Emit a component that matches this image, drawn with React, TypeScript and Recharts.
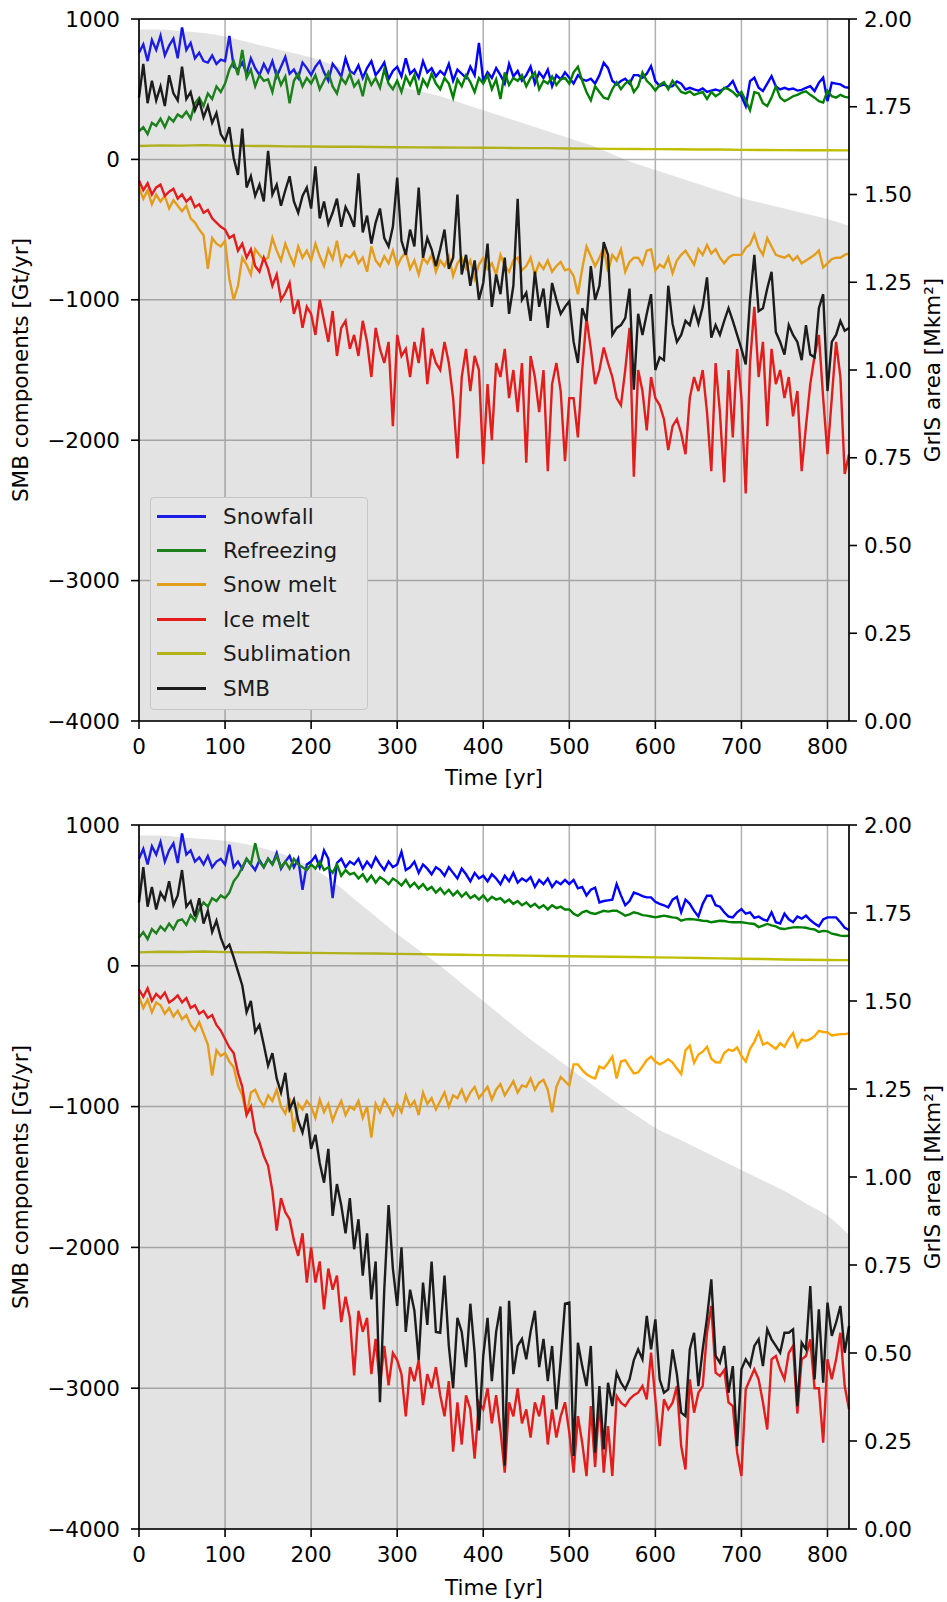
import React from 'react'
import {
  Area,
  CartesianGrid,
  ComposedChart,
  Line,
  ReferenceLine,
  XAxis,
  YAxis,
} from 'recharts'

const FONT = '"DejaVu Sans", sans-serif'

// model years, one sample every 5 yr (0..825)
const TIME = Array.from({ length: 166 }, (_, i) => i * 5)
// sublimation and ice-sheet area are read every 25 yr
const COARSE_STEP = 25

const X_TICKS = [0, 100, 200, 300, 400, 500, 600, 700, 800]
const SMB_TICKS = [-4000, -3000, -2000, -1000, 0, 1000]
const AREA_TICKS = [0, 0.25, 0.5, 0.75, 1, 1.25, 1.5, 1.75, 2]

// ---- upper panel ----
const TOP_SNOWFALL = [
  760, 820, 700, 850, 780, 880, 740, 810, 860, 720,
  940, 780, 830, 720, 760, 700, 690, 740, 680, 710,
  700, 880, 660, 640, 690, 610, 720, 650, 600, 680,
  620, 700, 590, 660, 730, 610, 640, 580, 690, 650,
  600, 660, 700, 620, 560, 680, 640, 590, 720, 630,
  610, 670, 580, 650, 700, 600, 640, 690, 570, 630,
  660, 590, 720, 610, 640, 580, 700, 620, 650, 590,
  630, 600, 680, 560, 640, 610, 580, 660, 600, 830,
  560, 620, 580, 650, 600, 540, 680, 590, 630, 560,
  600, 660, 540, 620, 580, 640, 520, 600, 570, 620,
  582, 540, 600, 570, 560, 575, 540, 600, 688, 650,
  560, 534, 558, 575, 540, 600, 600, 582, 610, 665,
  558, 522, 534, 515, 522, 555, 540, 498, 510, 498,
  490, 505, 480, 490, 498, 487, 505, 522, 558, 487,
  450, 380, 558, 582, 510, 487, 540, 593, 520, 498,
  510, 498, 505, 490, 495, 510, 522, 487, 546, 582,
  415, 546, 540, 534, 515, 510,
]

const TOP_REFREEZING = [
  200, 230, 180, 260, 240, 290, 230, 300, 270, 320,
  300, 340, 290, 400, 440, 380, 470, 430, 520, 480,
  540, 640, 700, 600, 780, 580, 640, 520, 600, 560,
  570, 480, 620, 530, 590, 400, 560, 610, 520, 580,
  540, 600, 500, 560, 620, 520, 470, 580, 540, 610,
  520, 560, 450, 600, 530, 580, 510, 640, 540, 500,
  560, 480, 590, 530, 600, 460, 570, 520, 610, 540,
  500, 580, 540, 440, 570, 520, 600, 550, 480, 580,
  540, 600, 500, 570, 430, 620, 530, 580, 560, 600,
  520, 580, 620, 500, 560, 540, 590, 530, 570, 580,
  540, 620, 660, 560, 480, 420, 520, 480, 440, 430,
  500, 550, 500, 540, 560, 480, 520, 620, 560, 530,
  490, 530, 550, 500, 560, 520, 480, 470, 485, 460,
  470, 480, 430, 480, 450, 470, 510, 500, 480, 450,
  480, 420, 350, 480, 470, 400, 380, 440, 520, 440,
  415, 430, 450, 460, 475, 485, 460, 440, 415, 405,
  490, 450, 440, 460, 445, 440,
]

const TOP_SNOW_MELT = [
  -200, -280, -220, -320, -250, -300, -260, -350, -290, -330,
  -370, -330, -420, -450, -500, -540, -780, -560, -600, -620,
  -580, -850, -1000, -900, -700, -750, -820, -640, -680, -720,
  -700, -560, -650, -720, -600, -680, -750, -620, -700, -650,
  -720, -600, -690, -760, -640, -710, -580, -750, -680, -700,
  -660, -740, -700, -800, -620, -720, -760, -690, -740, -650,
  -760, -700, -660, -780, -720, -820, -700, -740, -680, -800,
  -720, -760, -690, -830, -740, -700, -780, -720, -850, -750,
  -700, -780, -740, -820, -680, -760, -800, -720, -700, -790,
  -760, -700, -820, -740, -780, -720, -800, -760, -730, -790,
  -780, -830, -960, -780, -620, -690, -760, -700, -630, -800,
  -680, -720, -640, -800, -730, -700, -700, -750, -650, -640,
  -790, -750, -770, -700, -810, -720, -680, -650, -700, -750,
  -640, -680, -610, -670, -640, -700, -740, -700, -680, -680,
  -680, -630, -606, -535, -630, -680, -560, -620, -680, -690,
  -700, -680, -720, -690, -740, -720, -700, -680, -650, -770,
  -740, -710, -700, -700, -680, -670,
]

const TOP_ICE_MELT = [
  -150, -220, -170, -250, -200, -180, -260, -230, -210, -280,
  -250, -300, -270, -340, -320, -380, -360, -420, -450, -480,
  -500, -560, -540, -650, -600, -700, -640, -760, -800, -700,
  -780, -900, -820, -1000, -950, -880, -1100, -1000, -1200, -1050,
  -1100, -1250, -1000, -1150, -1300, -1080, -1400, -1200, -1150, -1350,
  -1250, -1400, -1150, -1300, -1550, -1200, -1350, -1450, -1300, -1900,
  -1250, -1400, -1350, -1550, -1300, -1450, -1200, -1600, -1350, -1450,
  -1500, -1300, -1450, -1700, -2130, -1550, -1350, -1650, -1400, -1500,
  -2170, -1600, -2000, -1450, -1550, -1350, -1700, -1500, -1800, -1450,
  -2160, -1400, -1550, -1800, -1500, -2220, -1600, -1450, -1650, -2150,
  -1700, -1700, -1980, -1500, -1130, -1350, -1600, -1500, -1340, -1450,
  -1550, -1700, -1750, -1500, -1200, -2260, -1500, -1650, -1930, -1550,
  -1700, -1750, -1850, -2070, -1900, -1850, -1950, -2100, -1700, -1550,
  -1650, -1500, -1800, -2220, -1450, -1800, -2300, -1500, -1980, -1350,
  -1700, -2380, -1450, -1050, -1550, -1300, -1900, -1350, -1600, -1500,
  -1700, -1550, -1830, -1650, -2220, -1900, -1600, -1400, -1250, -1700,
  -2100, -1700, -1300, -1550, -2240, -2100,
]

const TOP_SMB = [
  440, 680, 400, 560, 420, 520, 380, 600, 470, 420,
  660, 430, 480, 350, 420, 300, 380, 260, 330, 180,
  130, 230, 10, -110, 220, -200, -120, -260, -180, -300,
  60, -250, -180, -330, -220, -120, -300, -380, -260, -200,
  -350, -50, -420, -300, -460, -380, -280, -480, -340, -400,
  -480, -100, -520, -400, -600, -450, -350, -560, -620, -480,
  -130, -580, -680, -500, -620, -200, -700, -560, -640, -760,
  -640, -500, -780, -700, -250, -820, -680, -900, -720, -1000,
  -880, -600, -1050, -820, -960, -700, -1100, -900, -280, -1000,
  -950, -1150, -800, -1050, -920, -1200, -880, -1000, -1100, -1050,
  -1010, -1300, -1450, -1060, -1150, -760, -1000, -900, -590, -680,
  -1250, -1200, -1180, -1130, -920, -1640, -1100, -1250, -1100, -960,
  -1500, -1410, -1430, -900, -1170, -1300, -1250, -1150, -1180, -1060,
  -1170, -1050, -840, -1270, -1180, -1250, -1150, -1060, -1150, -1250,
  -1350, -1460, -1000, -680, -1080, -1060, -920, -800, -1230, -1300,
  -1390, -1180, -1250, -1300, -1430, -1180, -1390, -1410, -1060, -960,
  -1650, -1300, -1250, -1150, -1220, -1200,
]

const TOP_SUBLIMATION = [
  95, 100, 98, 102, 97, 96, 95, 93, 92, 90, 90, 88, 87, 86, 85, 84, 83,
  82, 80, 80, 78, 77, 75, 74, 73, 72, 70, 70, 68, 67, 66, 65, 65, 64,
]

const TOP_AREA = [
  1.97, 1.97, 1.965, 1.96, 1.95, 1.935, 1.92, 1.905, 1.89, 1.87, 1.85, 1.83,
  1.81, 1.795, 1.78, 1.76, 1.74, 1.72, 1.7, 1.68, 1.66, 1.64, 1.615, 1.59,
  1.57, 1.55, 1.53, 1.51, 1.49, 1.475, 1.46, 1.445, 1.43, 1.41,
]

// ---- lower panel ----
const BOT_SNOWFALL = [
  760, 830, 720, 850, 790, 880, 740, 820, 870, 730,
  940, 790, 820, 740, 770, 720, 780, 700, 740, 760,
  720, 860, 700, 740, 690, 760, 720, 680, 750, 700,
  760, 720, 800, 690, 740, 780, 700, 760, 540, 720,
  740, 780, 700, 820, 760, 480, 730, 760, 700, 740,
  720, 760, 690, 740, 700, 770, 720, 680, 740, 700,
  720, 810, 680, 700, 740, 660, 720, 690, 650, 700,
  680, 640, 700, 660, 620, 690, 650, 600, 660, 620,
  640, 600, 650, 620, 580, 640, 600, 660, 590, 620,
  600, 630, 560, 610, 580, 620, 560, 600, 580, 610,
  581, 610, 550, 560, 500, 540, 555, 450, 460, 465,
  470, 580, 500, 430, 460, 520, 510, 495, 486, 486,
  455, 440, 430, 415, 470, 490, 380, 470, 440, 390,
  350, 440, 498, 498, 430, 420, 380, 350, 344, 380,
  403, 370, 380, 340, 350, 330, 320, 380, 310, 300,
  370, 330, 310, 350, 335, 356, 325, 300, 280, 330,
  344, 344, 344, 310, 270, 255,
]

const BOT_REFREEZING = [
  200, 240, 190, 260, 230, 280, 250, 300, 260, 320,
  330, 290, 360, 320, 400, 450, 420, 480, 460, 500,
  480, 520, 600, 640, 700, 760, 720, 870, 740, 700,
  760, 720, 780, 700, 740, 690, 760, 720, 700, 680,
  720, 690, 740, 680, 700, 660, 720, 640, 680, 650,
  660, 620, 650, 600, 640, 590, 630, 610, 580, 620,
  600, 570, 610, 560, 590, 550, 580, 540, 560, 520,
  550, 510, 540, 500, 530, 490, 520, 480, 500, 470,
  500, 460, 490, 470, 480, 450, 470, 440, 460, 430,
  450, 420, 440, 410, 430, 400, 430, 410, 420, 400,
  400, 370, 355, 380, 390, 375, 368, 380, 391, 385,
  391, 391, 375, 356, 365, 380, 372, 360, 356, 350,
  344, 350, 356, 350, 344, 340, 320, 330, 332, 330,
  325, 320, 318, 309, 315, 320, 318, 312, 309, 310,
  309, 305, 300, 297, 275, 285, 297, 287, 280, 265,
  261, 268, 273, 275, 273, 270, 262, 258, 240, 248,
  245, 228, 222, 214, 212, 214,
]

const BOT_SNOW_MELT = [
  -220, -300, -240, -330, -260, -280, -340, -300, -360, -320,
  -380, -350, -420, -460, -400, -480, -560, -780, -600, -640,
  -620, -680, -720, -850, -920, -1060, -900, -880, -950, -1000,
  -920, -960, -880, -1000, -1050, -940, -1180, -980, -1020, -960,
  -1000, -1080, -950, -1040, -980, -1100, -1020, -960, -1060, -1000,
  -1020, -960, -1080, -1000, -1220, -980, -1040, -950, -1000, -1060,
  -980, -1040, -920, -1000, -960, -1060, -900, -980, -940, -1020,
  -960, -900, -1000, -920, -940, -880, -960, -900, -860, -940,
  -900, -860, -950, -880, -840, -920, -870, -820, -900, -850,
  -860, -800, -880, -830, -810, -880, -1040, -860, -790, -820,
  -850, -700, -700, -740, -770, -790, -800, -715, -730, -690,
  -645, -800, -680, -670, -720, -765, -758, -715, -670, -645,
  -680, -700, -685, -663, -687, -730, -770, -600, -568, -690,
  -630, -610, -575, -660, -685, -687, -620, -595, -605, -580,
  -640, -680, -590, -540, -470, -560, -545, -568, -590, -550,
  -575, -520, -478, -575, -525, -533, -521, -500, -462, -470,
  -473, -495, -490, -485, -485, -480,
]

const BOT_ICE_MELT = [
  -170, -220, -160, -250, -200, -230, -190, -260, -240, -210,
  -260, -230, -300, -280, -340, -320, -370, -350, -420, -460,
  -520, -580, -620, -760, -860, -1060, -1000, -1180, -1250, -1350,
  -1420, -1600, -1880, -1650, -1750, -1800, -1950, -2060, -1900, -2250,
  -2000, -2250, -2100, -2440, -2150, -2300, -2200, -2530, -2350, -2500,
  -2910, -2450, -2600, -2500, -2900, -2650, -2980, -2700, -2980, -2750,
  -2800, -2900, -3200, -2850, -2950, -2800, -3120, -2900, -3000, -2850,
  -3050, -3200, -2950, -3450, -3100, -3400, -3050, -3150, -3500, -3100,
  -3150, -3000, -3250, -3050, -3300, -3600, -3100, -3200, -3000, -3250,
  -3150, -3350, -3100, -3200, -3050, -3400, -3150, -3350, -3200, -3100,
  -3316, -3600, -3198, -3387, -3624, -3127, -3560, -3079, -3600, -3269,
  -3624, -3056, -3103, -3127, -3079, -3050, -3032, -2985, -3079, -2748,
  -3079, -3411, -3079, -3150, -3103, -2985, -3411, -3577, -2937, -3174,
  -3032, -2985, -2606, -2416, -2890, -2914, -2870, -3100, -3127, -3458,
  -3624, -3008, -2937, -2866, -2937, -3100, -3293, -2795, -2771, -2866,
  -2937, -2750, -2700, -3180, -2795, -2771, -2653, -3000, -3000, -3387,
  -2795, -2937, -2795, -2606, -2985, -3150,
]

const BOT_SMB = [
  450, 700, 420, 560, 400, 520, 470, 600, 430, 500,
  680, 420, 460, 350, 480, 300, 390, 240, 320, 200,
  120, 150, 60, -40, -140, -330, -250, -470, -420, -560,
  -710, -620, -800, -900, -760, -1018, -950, -1100, -1184, -1050,
  -1300, -1200, -1400, -1540, -1300, -1776, -1550, -1700, -1900, -1650,
  -2013, -1800, -2200, -1900, -2369, -2100, -3100, -2300, -1700, -2150,
  -2416, -2000, -2600, -2300, -2450, -2800, -2250, -2550, -2100, -2600,
  -2606, -2200, -2700, -3000, -2500, -2600, -2850, -2400, -2750, -3300,
  -2771, -2500, -2950, -2600, -2420, -3550, -2380, -2900, -2700, -2650,
  -2795, -2600, -2450, -2850, -2650, -2950, -2700, -3150, -2800, -2400,
  -2392, -3482, -2677, -2843, -2985, -2700, -3458, -2985, -3435, -2961,
  -3127, -2890, -2961, -3008, -2937, -2800, -2724, -2795, -2487, -2724,
  -2511, -2937, -3032, -3008, -2724, -2900, -3174, -3198, -2724, -2606,
  -2985, -2724, -2500, -2227, -2771, -2819, -2700, -3032, -2843, -3411,
  -2866, -2795, -2843, -2700, -2653, -2843, -2582, -2653, -2700, -2748,
  -2606, -2606, -2582, -3127, -2677, -2724, -2274, -2937, -2440, -2961,
  -2392, -2629, -2535, -2416, -2748, -2558,
]

const BOT_SUBLIMATION = [
  95, 100, 98, 102, 97, 95, 96, 93, 92, 90, 88, 87, 85, 83, 80, 78, 76,
  74, 72, 70, 68, 66, 64, 62, 60, 58, 55, 53, 50, 48, 45, 43, 41, 40,
]

const BOT_AREA = [
  1.97, 1.97, 1.965, 1.96, 1.955, 1.945, 1.93, 1.91, 1.88, 1.84, 1.79, 1.74,
  1.69, 1.645, 1.6, 1.55, 1.5, 1.45, 1.4, 1.355, 1.31, 1.265, 1.22, 1.18,
  1.14, 1.11, 1.08, 1.05, 1.02, 0.99, 0.96, 0.925, 0.89, 0.835,
]

// legend colours are pre-mixed with the translucent grey area lying on top
const SERIES = [
  { key: 'snow', name: 'Snowfall', color: '#0000ff', shaded: '#1c1ce3' },
  { key: 'refreeze', name: 'Refreezing', color: '#008000', shaded: '#1c801c' },
  { key: 'snowMelt', name: 'Snow melt', color: '#ffa500', shaded: '#e39d1c' },
  { key: 'iceMelt', name: 'Ice melt', color: '#ff0000', shaded: '#e31c1c' },
  { key: 'sub', name: 'Sublimation', color: '#bfbf00', shaded: '#b1b11c' },
  { key: 'smb', name: 'SMB', color: '#000000', shaded: '#1c1c1c' },
]

type PanelData = {
  snow: number[]
  refreeze: number[]
  snowMelt: number[]
  iceMelt: number[]
  smb: number[]
  sub: number[]
  area: number[]
}

function buildRows(p: PanelData) {
  return TIME.map((t, i) => {
    const j = t % COARSE_STEP === 0 ? t / COARSE_STEP : -1
    return {
      t,
      snow: p.snow[i],
      refreeze: p.refreeze[i],
      snowMelt: p.snowMelt[i],
      iceMelt: p.iceMelt[i],
      smb: p.smb[i],
      sub: j >= 0 ? p.sub[j] : null,
      area: j >= 0 ? p.area[j] : null,
    }
  })
}

const TOP_ROWS = buildRows({
  snow: TOP_SNOWFALL,
  refreeze: TOP_REFREEZING,
  snowMelt: TOP_SNOW_MELT,
  iceMelt: TOP_ICE_MELT,
  smb: TOP_SMB,
  sub: TOP_SUBLIMATION,
  area: TOP_AREA,
})

const BOT_ROWS = buildRows({
  snow: BOT_SNOWFALL,
  refreeze: BOT_REFREEZING,
  snowMelt: BOT_SNOW_MELT,
  iceMelt: BOT_ICE_MELT,
  smb: BOT_SMB,
  sub: BOT_SUBLIMATION,
  area: BOT_AREA,
})

const TICK = { fontSize: 21.5, fill: '#000', fontFamily: FONT }
const SPINE = { stroke: '#000', strokeWidth: 1.6 }

const fmtSmb = (v: number) => (v < 0 ? '\u2212' + Math.abs(v) : String(v))

const axisTitle: React.CSSProperties = {
  position: 'absolute',
  fontFamily: FONT,
  fontSize: 21.5,
  color: '#000',
  whiteSpace: 'nowrap',
  lineHeight: 1,
}

function LegendBox() {
  return (
    <div
      style={{
        position: 'absolute',
        left: 150,
        top: 497,
        width: 216,
        height: 211,
        background: '#e4e4e4',
        border: '1px solid #c6c6c6',
        borderRadius: 4,
        fontFamily: FONT,
        fontSize: 21.5,
        color: '#1c1c1c',
      }}
    >
      {SERIES.map((s, i) => (
        <div
          key={s.key}
          style={{
            position: 'absolute',
            left: 0,
            top: 18 + i * 34.4 - 17,
            height: 34,
            display: 'flex',
            alignItems: 'center',
          }}
        >
          <span
            style={{
              display: 'inline-block',
              marginLeft: 6,
              width: 49,
              height: 3,
              background: s.shaded,
            }}
          />
          <span style={{ marginLeft: 17 }}>{s.name}</span>
        </div>
      ))}
    </div>
  )
}

type PanelProps = {
  rows: ReturnType<typeof buildRows>
  top: number
  height: number
  marginTop: number
  axisHeight: number
  labelOffset: number
  legend?: boolean
}

function SmbPanel({ rows, top, height, marginTop, axisHeight, labelOffset, legend }: PanelProps) {
  const mid = top + (marginTop + height - axisHeight) / 2
  return (
    <>
      <div style={{ position: 'absolute', left: 0, top, width: 947, height }}>
        <ComposedChart
          width={947}
          height={height}
          data={rows}
          margin={{ top: marginTop, right: 0, bottom: 0, left: 0 }}
        >
          <CartesianGrid yAxisId="smb" stroke="#b0b0b0" strokeWidth={1.5} />
          <XAxis
            dataKey="t"
            type="number"
            domain={[0, 825]}
            ticks={X_TICKS}
            interval={0}
            height={axisHeight}
            tickSize={8}
            tickMargin={10}
            tick={TICK}
            axisLine={SPINE}
            tickLine={SPINE}
            label={{
              value: 'Time [yr]',
              position: 'insideBottom',
              offset: labelOffset,
              fill: '#000',
              fontSize: 21.5,
              fontFamily: FONT,
            }}
          />
          <YAxis
            yAxisId="smb"
            domain={[-4000, 1000]}
            ticks={SMB_TICKS}
            interval={0}
            width={139}
            tickSize={8}
            tickMargin={11}
            tick={TICK}
            tickFormatter={fmtSmb}
            axisLine={SPINE}
            tickLine={SPINE}
            allowDataOverflow
          />
          <YAxis
            yAxisId="area"
            orientation="right"
            domain={[0, 2]}
            ticks={AREA_TICKS}
            interval={0}
            width={98}
            tickSize={8}
            tickMargin={7}
            tick={TICK}
            tickFormatter={(v: number) => v.toFixed(2)}
            axisLine={SPINE}
            tickLine={SPINE}
          />
          <ReferenceLine yAxisId="smb" y={1000} stroke="#000" strokeWidth={1.6} />
          {SERIES.map((s) => (
            <Line
              key={s.key}
              yAxisId="smb"
              dataKey={s.key}
              name={s.name}
              type="linear"
              stroke={s.color}
              strokeWidth={2.4}
              dot={false}
              activeDot={false}
              connectNulls={s.key === 'sub'}
              isAnimationActive={false}
            />
          ))}
          <Area
            yAxisId="area"
            dataKey="area"
            type="monotone"
            fill="#808080"
            fillOpacity={0.22}
            stroke="none"
            connectNulls
            legendType="none"
            isAnimationActive={false}
            zIndex={450}
          />
        </ComposedChart>
      </div>
      <div style={{ ...axisTitle, left: 21, top: mid, transform: 'translate(-50%, -50%) rotate(-90deg)' }}>
        SMB components [Gt/yr]
      </div>
      <div style={{ ...axisTitle, left: 933, top: mid, transform: 'translate(-50%, -50%) rotate(-90deg)' }}>
        GrIS area [Mkm²]
      </div>
      {legend && <LegendBox />}
    </>
  )
}

export default function App() {
  return (
    <div
      style={{
        position: 'absolute',
        left: 0,
        top: 0,
        width: 947,
        height: 1602,
        background: '#fff',
        fontFamily: FONT,
      }}
    >
      <SmbPanel rows={TOP_ROWS} top={0} height={800} marginTop={19} axisHeight={79} labelOffset={15} legend />
      <SmbPanel rows={BOT_ROWS} top={800} height={802} marginTop={25} axisHeight={73} labelOffset={7} />
    </div>
  )
}
